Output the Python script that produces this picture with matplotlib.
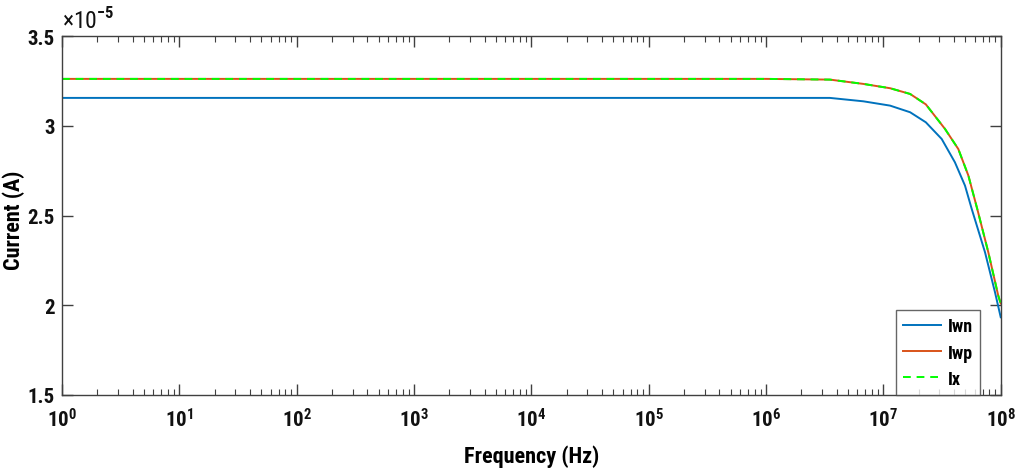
import matplotlib
matplotlib.use("Agg")
import matplotlib.pyplot as plt
from matplotlib.ticker import LogLocator, FixedLocator, NullFormatter

plt.rcParams['font.family'] = ['Roboto Condensed', 'DejaVu Sans Condensed', 'Liberation Sans']
plt.rcParams['font.weight'] = 'bold'
plt.rcParams['mathtext.fontset'] = 'custom'
plt.rcParams['mathtext.rm'] = 'Roboto Condensed'
plt.rcParams['mathtext.bf'] = 'Roboto Condensed:bold'

# Frequency sweep (Hz) and currents (in units of 1e-5 A)
freq_ix = [1, 1e6, 3.5e6, 6.75e6, 1.14e7, 1.69e7, 2.3e7, 3.35e7, 4.35e7, 5.3e7,
           6.35e7, 7.84e7, 9.53e7, 1e8]
ix = [3.262, 3.262, 3.258, 3.234, 3.21, 3.178, 3.12, 2.983, 2.871, 2.723,
      2.53, 2.295, 2.053, 2.01]
iwp = [3.262, 3.262, 3.258, 3.234, 3.21, 3.178, 3.12, 2.983, 2.871, 2.723,
       2.53, 2.295, 2.053, 2.01]

freq_iwn = [1, 1e6, 3.5e6, 6.75e6, 1.14e7, 1.69e7, 2.3e7, 3.14e7, 4.07e7, 4.96e7,
            5.66e7, 7.35e7, 8.94e7, 1e8]
iwn = [3.156, 3.156, 3.156, 3.137, 3.113, 3.076, 3.02, 2.927, 2.797, 2.667,
       2.537, 2.295, 2.072, 1.933]

y_ticks = [1.5, 2, 2.5, 3, 3.5]
y_ticklabels = ['1.5', '2', '2.5', '3', '3.5']
x_ticks = [10**k for k in range(9)]
x_ticklabels = [f'$\\mathbf{{10^{{{k}}}}}$' for k in range(9)]

fig = plt.figure(figsize=(10.2, 4.77), dpi=100)
ax = fig.add_axes([0.0608, 0.170, 0.9203, 0.752])

ax.plot(freq_iwn, iwn, color='#0072BD', lw=1.4, label='Iwn')
ax.plot(freq_ix, iwp, color='#D95319', lw=1.4, label='Iwp')
ax.plot(freq_ix, ix, color='#00FF00', lw=1.4, ls=(0, (4, 3)), label='Ix')

ax.set_xscale('log')
ax.set_xlim(1, 1e8)
ax.set_ylim(1.5, 3.5)

ax.xaxis.set_major_locator(FixedLocator(x_ticks))
ax.set_xticklabels(x_ticklabels)
ax.xaxis.set_minor_locator(LogLocator(base=10, subs=range(2, 10), numticks=20))
ax.xaxis.set_minor_formatter(NullFormatter())
ax.set_yticks(y_ticks)
ax.set_yticklabels(y_ticklabels)

axis_color = '#404040'
for s in ax.spines.values():
    s.set_color(axis_color)
    s.set_linewidth(1.0)
ax.tick_params(which='major', direction='in', length=8, width=1.0, color=axis_color,
               top=True, right=True, labelsize=15, labelcolor='#111111')
ax.tick_params(axis='x', which='major', pad=9)
ax.tick_params(axis='y', which='major', pad=5)
ax.tick_params(which='minor', direction='in', length=4, width=0.8, color=axis_color,
               top=True, right=True)
for lab in ax.get_xticklabels() + ax.get_yticklabels():
    lab.set_fontweight('bold')

ax.set_xlabel('Frequency (Hz)', fontsize=16, fontweight='bold', labelpad=10)
ax.set_ylabel('Current (A)', fontsize=16, fontweight='bold')
ax.yaxis.set_label_coords(-0.039, 0.49)

ax.text(0.0, 1.008, '×10$^{-5}$', transform=ax.transAxes, fontsize=17,
        fontweight='normal', color='#111111', ha='left', va='bottom')

leg = ax.legend(loc='lower right', bbox_to_anchor=(0.978, 0.0), borderaxespad=0,
                fontsize=13, frameon=True, fancybox=False, borderpad=0.4,
                handlelength=2.1, labelspacing=0.45, handletextpad=0.35)
leg.get_frame().set_edgecolor(axis_color)
leg.get_frame().set_linewidth(1.0)
for t in leg.get_texts():
    t.set_fontweight('bold')

fig.savefig('out.png', dpi=100)
